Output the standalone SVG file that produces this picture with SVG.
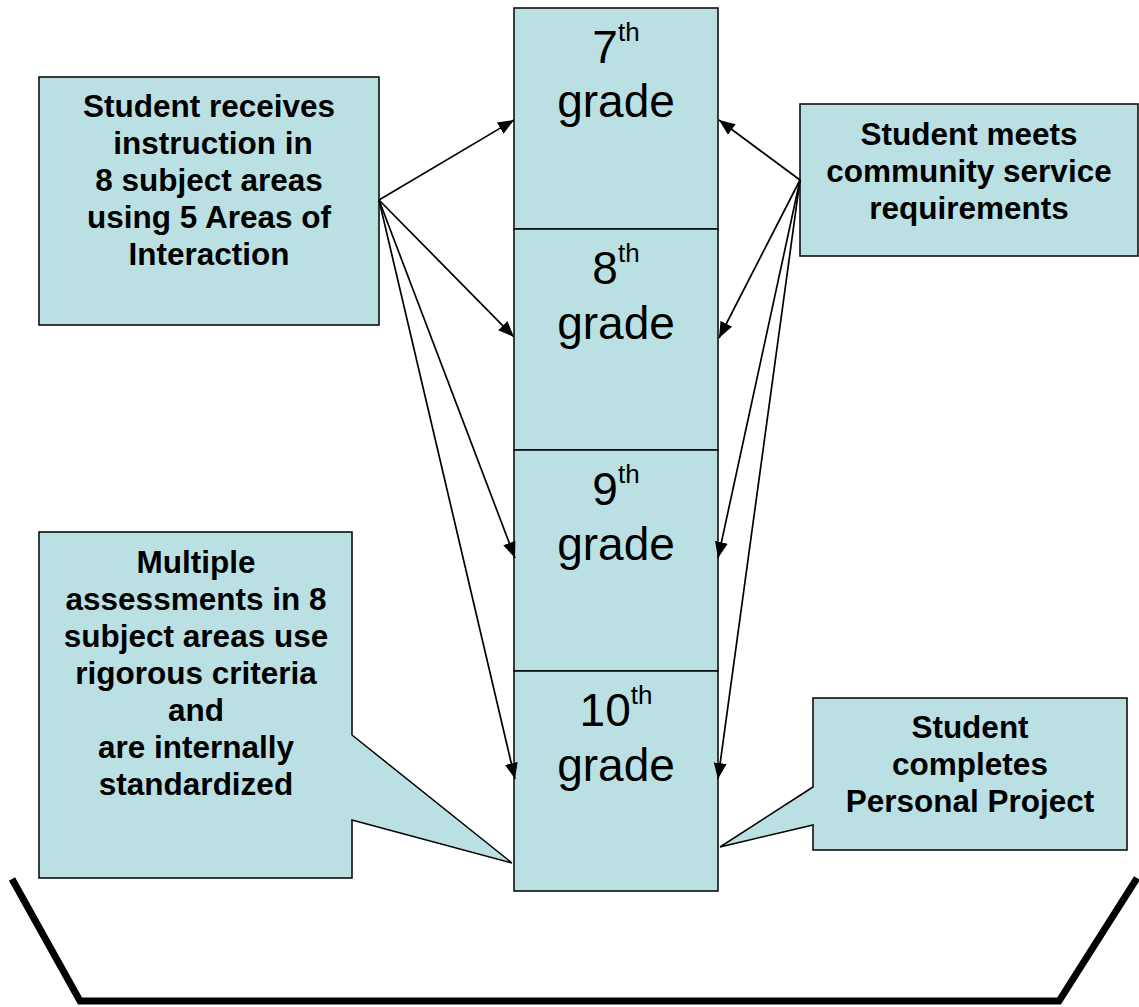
<svg xmlns="http://www.w3.org/2000/svg" width="1139" height="1007" viewBox="0 0 1139 1007">
  <style>
    .box { fill: #BBE0E3; stroke: #000; stroke-width: 1.5; }
    .label { font-family: "Liberation Sans", Arial, sans-serif; font-weight: bold; font-size: 31.5px; fill: #000; text-anchor: middle; }
    .grade { font-family: "Liberation Sans", Arial, sans-serif; font-size: 46px; fill: #000; text-anchor: middle; }
    .sup { font-size: 26px; }
    .conn { stroke: #000; stroke-width: 1.7; fill: none; marker-end: url(#arrow); }
    .bracket { stroke: #000; stroke-width: 7; fill: none; stroke-linejoin: miter; }
  </style>
  <defs>
    <marker id="arrow" markerUnits="userSpaceOnUse" markerWidth="17" markerHeight="13" refX="16" refY="6.5" orient="auto">
      <path d="M0,0 L16,6.5 L0,13 Z" fill="#000"/>
    </marker>
  </defs>
  <rect width="1139" height="1007" fill="#fff"/>

  <!-- grade column -->
  <g id="grade7">
    <rect class="box" x="514" y="8" width="204" height="221"/>
    <text class="grade" x="616" y="63"><tspan>7</tspan><tspan class="sup" dy="-22">th</tspan></text>
    <text class="grade" x="616" y="117">grade</text>
  </g>
  <g id="grade8">
    <rect class="box" x="514" y="229" width="204" height="221"/>
    <text class="grade" x="616" y="284"><tspan>8</tspan><tspan class="sup" dy="-22">th</tspan></text>
    <text class="grade" x="616" y="339">grade</text>
  </g>
  <g id="grade9">
    <rect class="box" x="514" y="450" width="204" height="221"/>
    <text class="grade" x="616" y="505"><tspan>9</tspan><tspan class="sup" dy="-22">th</tspan></text>
    <text class="grade" x="616" y="560">grade</text>
  </g>
  <g id="grade10">
    <rect class="box" x="514" y="671" width="204" height="220"/>
    <text class="grade" x="616" y="726"><tspan>10</tspan><tspan class="sup" dy="-22">th</tspan></text>
    <text class="grade" x="616" y="781">grade</text>
  </g>

  <!-- side notes -->
  <g id="instruction">
    <rect class="box" x="39" y="77" width="340" height="248"/>
    <text class="label" x="209" y="117">Student receives</text>
    <text class="label" x="213" y="154">instruction in</text>
    <text class="label" x="209" y="191">8 subject areas</text>
    <text class="label" x="209" y="228">using 5 Areas of</text>
    <text class="label" x="209" y="265">Interaction</text>
  </g>
  <g id="service">
    <rect class="box" x="800" y="104" width="338" height="152"/>
    <text class="label" x="969" y="145">Student meets</text>
    <text class="label" x="969" y="182">community service</text>
    <text class="label" x="969" y="219">requirements</text>
  </g>
  <g id="assessments">
    <path class="box" d="M39,532 L352,532 L352,735 L512,863 L352,820 L352,878 L39,878 Z"/>
    <text class="label" x="196" y="573">Multiple</text>
    <text class="label" x="196" y="610">assessments in 8</text>
    <text class="label" x="196" y="647">subject areas use</text>
    <text class="label" x="196" y="684">rigorous criteria</text>
    <text class="label" x="196" y="721">and</text>
    <text class="label" x="196" y="758">are internally</text>
    <text class="label" x="196" y="795">standardized</text>
  </g>
  <g id="project">
    <path class="box" d="M813,698 L1127,698 L1127,850 L813,850 L813,825 L720,847 L813,787 Z"/>
    <text class="label" x="970" y="738">Student</text>
    <text class="label" x="970" y="775">completes</text>
    <text class="label" x="970" y="812">Personal Project</text>
  </g>

  <!-- connectors -->
  <g id="connectors">
    <path class="conn" d="M379,200 L514,120"/>
    <path class="conn" d="M379,200 L514,337"/>
    <path class="conn" d="M379,200 L515,558"/>
    <path class="conn" d="M379,200 L515,779"/>
    <path class="conn" d="M800,180 L719,120"/>
    <path class="conn" d="M800,180 L719,338"/>
    <path class="conn" d="M800,180 L718,558"/>
    <path class="conn" d="M800,180 L718,779"/>
  </g>

  <!-- bracket under the column -->
  <polyline id="bracket" class="bracket" points="12,879 80,1001 1059,1001 1137,878"/>
</svg>
